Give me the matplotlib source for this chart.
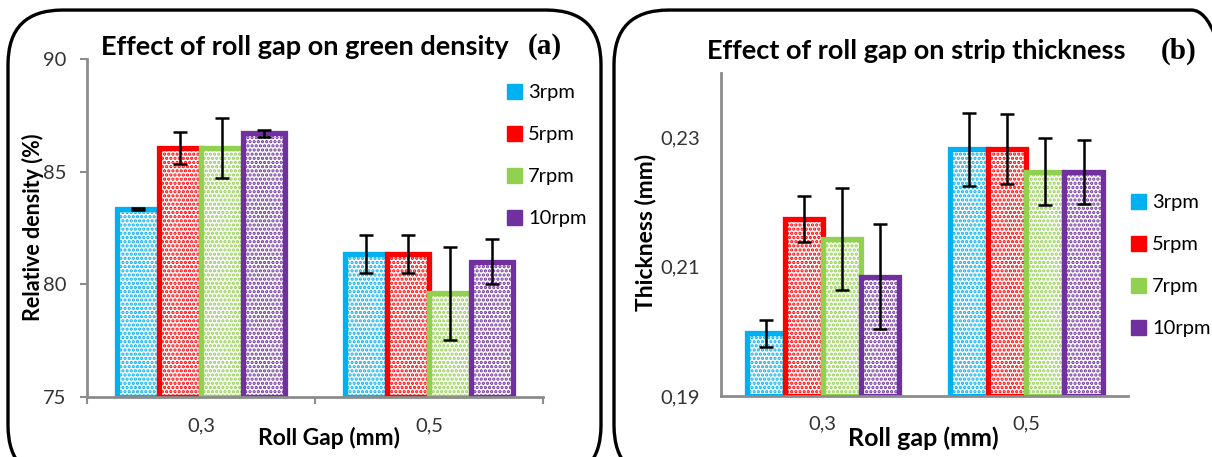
import numpy as np
import matplotlib.pyplot as plt
from matplotlib.patches import FancyBboxPatch, Patch

# data
gaps = ['0,3', '0,5']
speeds = ['3rpm', '5rpm', '7rpm', '10rpm']
colors = ['#00B0F0', '#FF0000', '#92D050', '#7030A0']

density = {
    '3rpm': [83.35, 81.35],
    '5rpm': [86.05, 81.35],
    '7rpm': [86.05, 79.6],
    '10rpm': [86.7, 81.0],
}
density_err = {
    '3rpm': [0.05, 0.85],
    '5rpm': [0.7, 0.85],
    '7rpm': [1.35, 2.05],
    '10rpm': [0.15, 1.0],
}
thickness = {
    '3rpm': [0.1997, 0.2282],
    '5rpm': [0.2174, 0.2282],
    '7rpm': [0.2143, 0.2247],
    '10rpm': [0.2085, 0.2247],
}
thickness_err = {
    '3rpm': [0.0021, 0.0057],
    '5rpm': [0.0036, 0.0054],
    '7rpm': [0.0079, 0.0052],
    '10rpm': [0.0082, 0.0049],
}

plt.rcParams['font.family'] = ['Lato', 'DejaVu Sans']
plt.rcParams['hatch.linewidth'] = 1.6

fig = plt.figure(figsize=(12.12, 4.57), dpi=100)

# rounded frames around each panel
for x0, w in [(8 / 1212, 593 / 1212), (614 / 1212, 632 / 1212)]:
    box = FancyBboxPatch((x0, -0.05), w, 1.028, transform=fig.transFigure,
                         boxstyle='round,pad=0,rounding_size=0.045',
                         fc='none', ec='black', lw=2.4, mutation_aspect=2.65)
    fig.patches.append(box)


def draw_panel(ax, vals, errs, frac, capsize):
    n = len(speeds)
    x = np.arange(len(gaps))
    w = frac / n
    base = ax.get_ylim()[0]
    for i, s in enumerate(speeds):
        pos = x - frac / 2 + w * (i + 0.5)
        ax.bar(pos, np.array(vals[s]) - base, w, bottom=base,
               facecolor='white', edgecolor=colors[i], linewidth=3.8,
               hatch='....', zorder=2)
        ax.errorbar(pos, vals[s], yerr=errs[s], fmt='none', ecolor='black',
                    elinewidth=1.8, capsize=capsize, capthick=1.8, zorder=3)
    for sp in ['top', 'right']:
        ax.spines[sp].set_visible(False)
    for sp in ['left', 'bottom']:
        ax.spines[sp].set_color('#8c8c8c')
        ax.spines[sp].set_linewidth(2)
    ax.set_xlim(-0.5, len(gaps) - 0.5)
    ax.tick_params(axis='y', labelsize=14.5, colors='#8c8c8c',
                   width=1.5, length=5)
    for lab in ax.get_yticklabels():
        lab.set_color('#333333')


# panel (a)
ax1 = fig.add_axes([0.0718, 0.1313, 0.3762, 0.7397])
ax1.set_ylim(75, 90)
ax1.set_yticks([75, 80, 85, 90])
draw_panel(ax1, density, density_err, 0.74, 5)
ax1.tick_params(axis='y', pad=10)
for lab in ax1.get_yticklabels():
    lab.set_color('#333333')
ax1.set_xticks([0, 1])
ax1.set_xticklabels(gaps)
ax1.set_xticks([-0.5, 0.5, 1.5], minor=True)
ax1.tick_params(axis='x', which='major', length=0, labelsize=14.5, pad=15,
                labelcolor='#333333')
ax1.tick_params(axis='x', which='minor', length=5, width=1.5, color='#8c8c8c')
ax1.set_ylabel('Relative density (%)', fontsize=15.5, fontweight='bold', va='center')
ax1.yaxis.set_label_coords(-0.118, 0.503)
ax1.set_xlabel('Roll Gap (mm)', fontsize=16.5, fontweight='bold', va='center')
ax1.xaxis.set_label_coords(0.531, -0.121)
fig.text(305 / 1212, 1 - 47 / 457, 'Effect of roll gap on green density',
         fontsize=19.5, fontweight='bold', ha='center', va='center')
fig.text(545 / 1212, 1 - 47 / 457, '(a)', fontsize=21, fontweight='bold',
         ha='center', va='center', family='Liberation Serif')

# panel (b)
ax2 = fig.add_axes([0.595, 0.1335, 0.3357, 0.7065])
ax2.set_ylim(0.19, 0.24)
ax2.set_yticks([0.19, 0.21, 0.23])
ax2.set_yticklabels(['0,19', '0,21', '0,23'])
draw_panel(ax2, thickness, thickness_err, 0.75, 5)
ax2.tick_params(axis='y', length=0, pad=15)
ax2.set_xticks([0, 1])
ax2.set_xticklabels(gaps)
ax2.tick_params(axis='x', length=0, labelsize=14.5, pad=14, labelcolor='#333333')
ax2.set_ylabel('Thickness (mm)', fontsize=16.5, fontweight='bold', va='center')
ax2.yaxis.set_label_coords(-0.187, 0.508)
ax2.set_xlabel('Roll gap (mm)', fontsize=18, fontweight='bold', va='center')
ax2.xaxis.set_label_coords(0.496, -0.130)
fig.text(916 / 1212, 1 - 51 / 457, 'Effect of roll gap on strip thickness',
         fontsize=19.5, fontweight='bold', ha='center', va='center')
fig.text(1179 / 1212, 1 - 51 / 457, '(b)', fontsize=21, fontweight='bold',
         ha='center', va='center', family='Liberation Serif')

handles = [Patch(facecolor=c, edgecolor=c, label=s) for s, c in zip(speeds, colors)]
fig.legend(handles=handles, loc='upper left', bbox_to_anchor=(499 / 1212, 1 - 76 / 457),
           frameon=False, fontsize=14.5, handlelength=0.75, handleheight=0.75,
           handletextpad=0.3, labelspacing=1.22, borderaxespad=0)
fig.legend(handles=handles, loc='upper left', bbox_to_anchor=(1123 / 1212, 1 - 186 / 457),
           frameon=False, fontsize=14.5, handlelength=0.75, handleheight=0.75,
           handletextpad=0.3, labelspacing=1.22, borderaxespad=0)

fig.savefig('out.png', dpi=100)
